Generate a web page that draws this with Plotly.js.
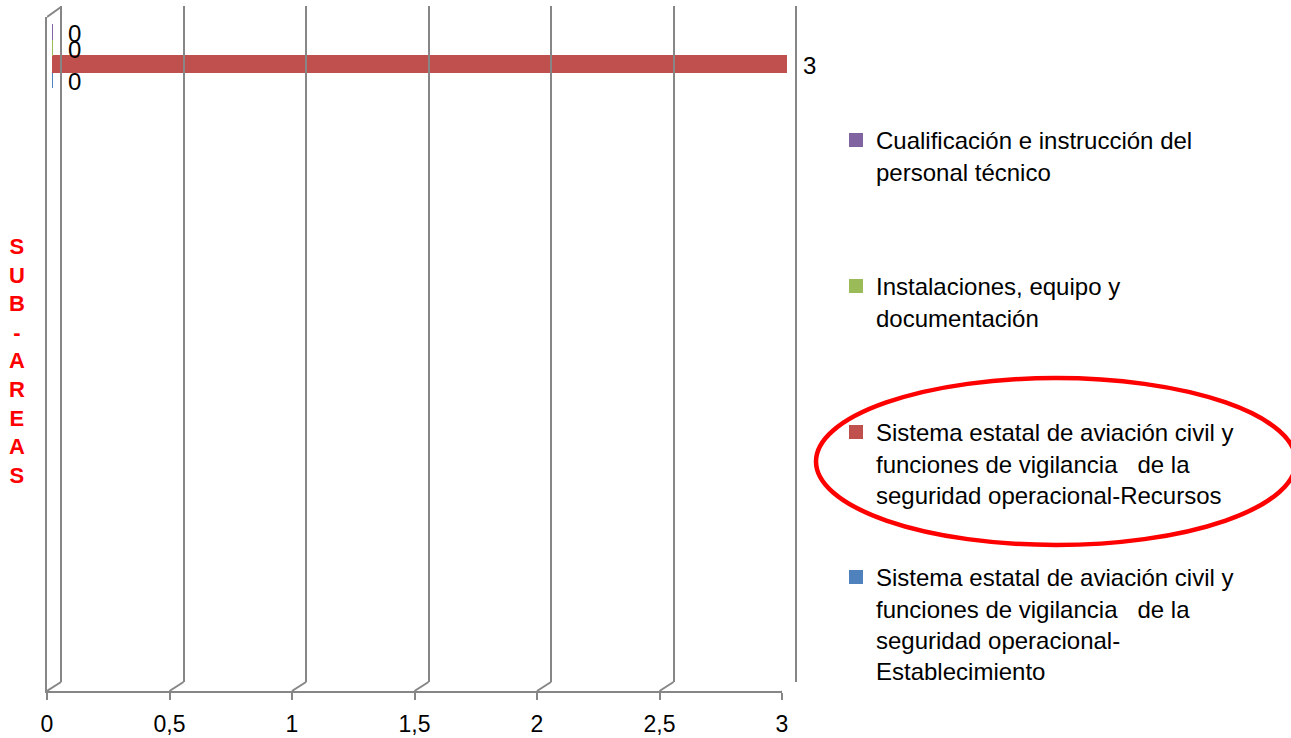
<!DOCTYPE html>
<html>
<head>
<meta charset="utf-8">
<script src="https://cdn.plot.ly/plotly-3.0.1.min.js"></script>
<style>
html,body{margin:0;padding:0;background:#ffffff;}
#chart{width:1291px;height:738px;}
</style>
</head>
<body>
<div id="chart"></div>
<script>
// ---------- data ----------
const categories = ["Sub-áreas"];

const nameEstablecimiento = "Sistema estatal de aviación civil y<br>funciones de vigilancia\u00a0\u00a0 de la<br>seguridad operacional-<br>Establecimiento";
const nameRecursos = "Sistema estatal de aviación civil y<br>funciones de vigilancia\u00a0\u00a0 de la<br>seguridad operacional-Recursos";
const nameInstalaciones = "Instalaciones, equipo y<br>documentación";
const nameCualificacion = "Cualificación e instrucción del<br>personal técnico";

const valsEstablecimiento = [0];
const valsRecursos = [3];
const valsInstalaciones = [0];
const valsCualificacion = [0];

const tickVals = [0, 0.5, 1, 1.5, 2, 2.5, 3];
const tickText = ["0", "0,5", "1", "1,5", "2", "2,5", "3"];

const yTitle = "SUB-AREAS";

// ---------- styling / layout helpers ----------
const W = 1291, H = 738;
const px = x => x / W;
const py = y => 1 - y / H;
const FONT = "Liberation Sans, Arial, sans-serif";
const GRID = "#868686";
const PX_PER_UNIT = 245;

const series = [
  {name: nameEstablecimiento, vals: valsEstablecimiento, color: "#4F81BD", legend: "legend4", legTop: 578},
  {name: nameRecursos,        vals: valsRecursos,        color: "#C0504D", legend: "legend3", legTop: 433},
  {name: nameInstalaciones,   vals: valsInstalaciones,   color: "#9BBB59", legend: "legend2", legTop: 287},
  {name: nameCualificacion,   vals: valsCualificacion,   color: "#8064A2", legend: "legend",  legTop: 141}
];

const nS = series.length;
const bargap = 0.2;
const barW = (1 - bargap) / nS;

const traces = series.map(s => ({
  type: "bar",
  orientation: "h",
  name: s.name,
  x: s.vals,
  y: categories,
  xaxis: "x",
  yaxis: "y",
  legend: s.legend,
  marker: {color: s.color, line: {color: s.color, width: 2}},
  hoverinfo: "x+name"
}));

// helper invisible traces so the decoration subplots exist
traces.push({type: "scatter", x: [], y: [], xaxis: "x2", yaxis: "y2", showlegend: false, hoverinfo: "skip"});
traces.push({type: "scatter", x: [], y: [], xaxis: "x3", yaxis: "y3", showlegend: false, hoverinfo: "skip"});

// data labels
const annotations = [];
series.forEach((s, i) => {
  const off = -((1 - bargap) / 2) + barW * (i + 0.5);
  s.vals.forEach((v, j) => {
    annotations.push({
      x: v, y: j + off, xref: "x", yref: "y",
      text: String(v).replace(".", ","),
      showarrow: false, xanchor: "left", yanchor: "middle",
      xshift: 14, yshift: -2,
      font: {family: FONT, size: 24, color: "#000000"}
    });
  });
});

// vertical stacked axis title
annotations.push({
  x: px(17), y: py(361), xref: "paper", yref: "paper",
  text: yTitle.split("").join("<br>"),
  showarrow: false, xanchor: "center", yanchor: "middle",
  font: {family: FONT, size: 22, color: "#FF0000", weight: "bold"}
});

// 3D floor diagonals + top-left edge
const dUnit = 14 / PX_PER_UNIT;
const shapes = tickVals.map(v => ({
  type: "line", xref: "x2", yref: "paper",
  x0: v, y0: py(691), x1: v + dUnit, y1: py(682),
  line: {color: GRID, width: 2}
}));
shapes.push({
  type: "line", xref: "x2", yref: "paper",
  x0: 0, y0: py(17), x1: dUnit, y1: py(7),
  line: {color: GRID, width: 2}
});
// red highlight ellipse
shapes.push({
  type: "circle", xref: "paper", yref: "paper",
  x0: px(816), x1: px(1296), y0: py(378), y1: py(545),
  line: {color: "#FF0000", width: 4.5}
});

function legendAt(top) {
  return {
    x: px(836), y: py(top - 23), xanchor: "left", yanchor: "top",
    font: {family: FONT, size: 24, color: "#000000"},
    bgcolor: "rgba(0,0,0,0)", borderwidth: 0, valign: "top",
    itemclick: false, itemdoubleclick: false
  };
}

// back wall axis: pad range by 3px each side so the edge gridlines are drawn
const pad = 3 / PX_PER_UNIT;

const layout = {
  width: W, height: H,
  margin: {l: 0, r: 0, t: 0, b: 0},
  paper_bgcolor: "#ffffff",
  plot_bgcolor: "rgba(0,0,0,0)",
  showlegend: true,
  barmode: "group",
  bargap: bargap,
  bargroupgap: 0,
  font: {family: FONT, color: "#000000"},
  xaxis: {
    domain: [px(52), px(787)], range: [0, 3], anchor: "y",
    visible: false, fixedrange: true
  },
  yaxis: {
    domain: [py(691), py(8)], type: "category",
    range: [0.6 - 683 / 80, 0.6], anchor: "x",
    visible: false, fixedrange: true
  },
  xaxis2: {
    domain: [px(47), px(782)], range: [0, 3], anchor: "y2",
    tickvals: tickVals, ticktext: tickText,
    ticks: "outside", ticklen: 7, tickwidth: 2, tickcolor: GRID,
    ticklabelstandoff: 4,
    showline: true, linecolor: GRID, linewidth: 2,
    showgrid: false, zeroline: false,
    tickfont: {family: FONT, size: 23, color: "#000000"},
    fixedrange: true
  },
  yaxis2: {
    domain: [py(691), py(17)], range: [0, 1], anchor: "x2",
    showline: true, linecolor: GRID, linewidth: 2,
    showticklabels: false, ticks: "", showgrid: false, zeroline: false,
    fixedrange: true
  },
  xaxis3: {
    domain: [px(61 - 3), px(796 + 3)], range: [-pad, 3 + pad], anchor: "y3",
    tickvals: tickVals, showticklabels: false, ticks: "",
    showgrid: true, gridcolor: GRID, gridwidth: 2,
    zeroline: false, showline: false, fixedrange: true
  },
  yaxis3: {
    domain: [py(682), py(6)], range: [0, 1], anchor: "x3",
    showticklabels: false, ticks: "", showgrid: false, zeroline: false,
    showline: false, fixedrange: true
  },
  legend: legendAt(141),
  legend2: legendAt(287),
  legend3: legendAt(433),
  legend4: legendAt(578),
  annotations: annotations,
  shapes: shapes
};

Plotly.newPlot("chart", traces, layout, {displayModeBar: false, responsive: false, staticPlot: false});
</script>
</body>
</html>
